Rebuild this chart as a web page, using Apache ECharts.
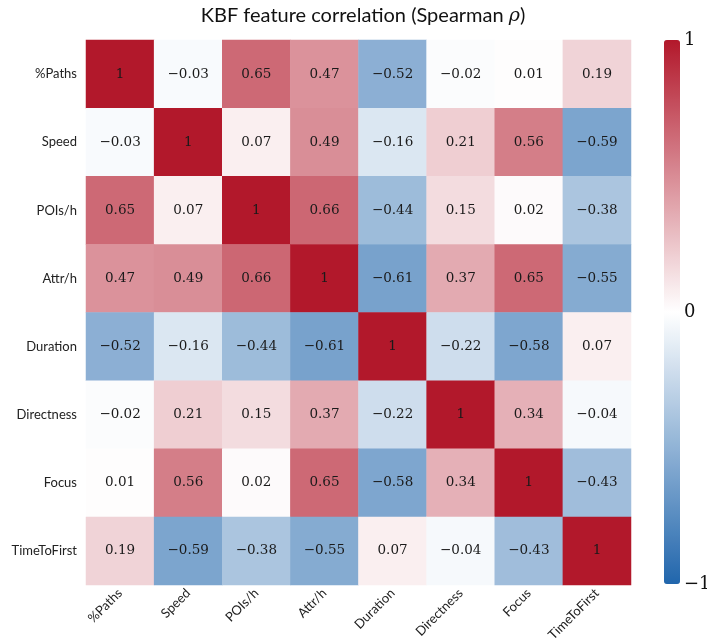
<!DOCTYPE html>
<html>
<head>
<meta charset="utf-8">
<script src="https://cdn.jsdelivr.net/npm/echarts@6/dist/echarts.min.js"></script>
<style>
  html, body { margin: 0; padding: 0; background: #fff; }
  #chart { width: 707px; height: 640px; }
</style>
</head>
<body>
<div id="chart"></div>
<script>
// feature names (same order for rows and columns)
const features = ['%Paths', 'Speed', 'POIs/h', 'Attr/h', 'Duration', 'Directness', 'Focus', 'TimeToFirst'];

// spearman rho, one array per row
const rowPaths      = [1, -0.03, 0.65, 0.47, -0.52, -0.02, 0.01, 0.19];
const rowSpeed      = [-0.03, 1, 0.07, 0.49, -0.16, 0.21, 0.56, -0.59];
const rowPois       = [0.65, 0.07, 1, 0.66, -0.44, 0.15, 0.02, -0.38];
const rowAttr       = [0.47, 0.49, 0.66, 1, -0.61, 0.37, 0.65, -0.55];
const rowDuration   = [-0.52, -0.16, -0.44, -0.61, 1, -0.22, -0.58, 0.07];
const rowDirectness = [-0.02, 0.21, 0.15, 0.37, -0.22, 1, 0.34, -0.04];
const rowFocus      = [0.01, 0.56, 0.02, 0.65, -0.58, 0.34, 1, -0.43];
const rowTime       = [0.19, -0.59, -0.38, -0.55, 0.07, -0.04, -0.43, 1];

const colorbarTicks = [-1, 0, 1];

const rows = [rowPaths, rowSpeed, rowPois, rowAttr, rowDuration, rowDirectness, rowFocus, rowTime];
let cells = [];
rows.forEach((r, y) => {
    r.forEach((v, x) => { cells.push([x, y, v]); });
});

function fmt(v) {
    if (v === 1) return '1';
    let s = Math.abs(v).toFixed(2);
    return v < 0 ? '\u2212' + s : s;
}

const sans = 'Lato, "Open Sans", sans-serif';
const serif = '"DejaVu Serif", "Liberation Serif", serif';

const myChart = echarts.init(document.getElementById('chart'));
const option = {
    backgroundColor: '#fff',
    animation: false,
    title: {
        text: 'KBF feature correlation (Spearman {r|ρ})',
        left: 358,
        textAlign: 'center',
        top: 1,
        textStyle: {
            fontFamily: sans, fontSize: 20, fontWeight: 'normal', color: '#111',
            rich: { r: { fontFamily: serif, fontStyle: 'italic', fontSize: 19, color: '#111' } }
        }
    },
    grid: [
        {left: 86, right: 76, top: 40, bottom: 55, outerBoundsMode: 'none', containLabel: false},
        {left: 664, width: 16, top: 40, height: 544, outerBoundsMode: 'none', containLabel: false}
    ],
    xAxis: [
        {
            type: 'category', data: features, gridIndex: 0,
            axisLine: {show: false}, axisTick: {show: false}, splitLine: {show: false},
            axisLabel: {rotate: 45, margin: 6, fontFamily: sans, fontSize: 13, color: '#222', interval: 0}
        },
        {
            type: 'value', gridIndex: 1, show: false, min: 0, max: 1
        }
    ],
    yAxis: [
        {
            type: 'category', data: features, inverse: true, gridIndex: 0,
            axisLine: {show: false}, axisTick: {show: false}, splitLine: {show: false},
            axisLabel: {margin: 9, fontFamily: sans, fontSize: 13, color: '#222', interval: 0}
        },
        {
            type: 'value', gridIndex: 1, position: 'right', min: -1, max: 1, interval: 1,
            axisLine: {show: false}, axisTick: {show: false}, splitLine: {show: false},
            axisLabel: {
                margin: 4, fontFamily: serif, fontSize: 18, color: '#111',
                formatter: function(v){ return v < 0 ? '\u2212' + Math.abs(v) : String(v); }
            }
        }
    ],
    visualMap: {
        type: 'continuous',
        min: -1, max: 1,
        seriesIndex: 0,
        calculable: false,
        orient: 'vertical',
        left: 664, top: 40,
        padding: 0,
        itemWidth: 16, itemHeight: 544,
        text: null,
        inRange: {color: ['#2166ac', '#ffffff', '#b2182b']}
    },
    series: [
        {
            type: 'heatmap',
            xAxisIndex: 0, yAxisIndex: 0,
            data: cells,
            label: {
                show: true, fontFamily: serif, fontSize: 13.5, color: '#1a1a1a',
                formatter: function(p){ return fmt(p.data[2]); }
            },
            itemStyle: {borderWidth: 0},
            emphasis: {disabled: true}
        },
        {
            type: 'line', xAxisIndex: 1, yAxisIndex: 1, data: colorbarTicks.map(t => [0, t]),
            showSymbol: false, lineStyle: {opacity: 0}, silent: true
        }
    ]
};
myChart.setOption(option);
</script>
</body>
</html>
